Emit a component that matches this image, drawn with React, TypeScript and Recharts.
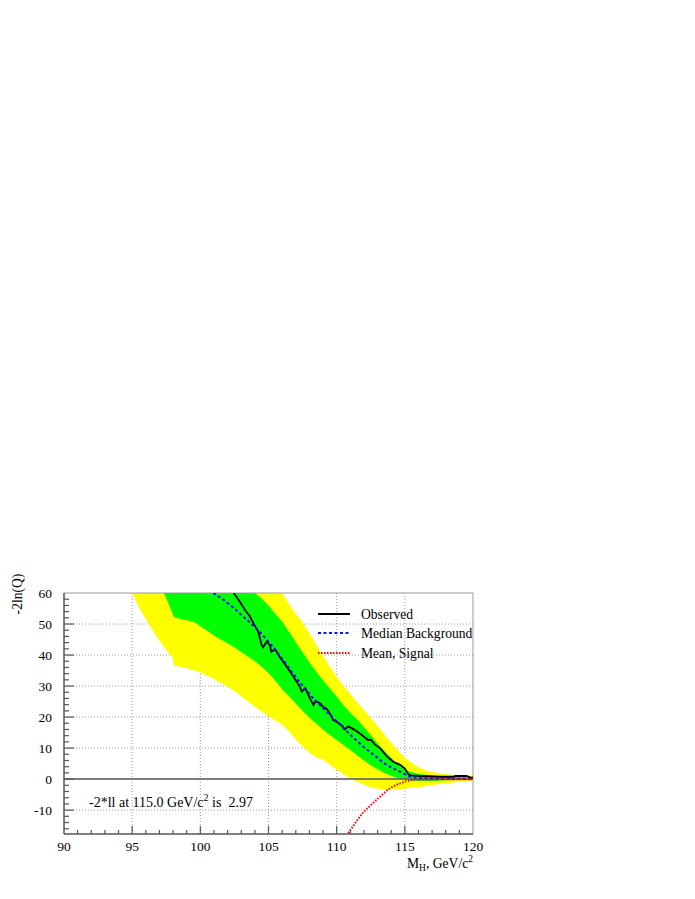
import React from 'react'
import {
  ComposedChart,
  Area,
  Line,
  XAxis,
  YAxis,
  CartesianGrid,
  ReferenceLine,
} from 'recharts'

// band grid (GeV/c^2) with 1 and 2 sigma edges of the background expectation
const bandX = [
  95, 95.5, 96, 96.5, 97, 97.5, 97.95, 98.05, 98.5, 99, 99.5, 100, 100.5, 101, 101.5, 102, 102.5, 103,
  103.5, 104, 104.5, 105, 105.5, 106, 106.5, 107, 107.5, 108, 108.5, 109, 109.5, 110, 110.5, 111, 111.5,
  112, 112.5, 113, 113.5, 114, 114.5, 115, 115.5, 116, 116.5, 117, 117.5, 118, 118.5, 119, 119.5, 120,
]
const yellowLo = [
  60, 55.3, 51.5, 48, 44.6, 41.6, 39.3, 36.7, 36.2, 35.7, 35.1, 34.4, 33.3, 32.3, 31, 29.8, 28.3, 26.7,
  25, 23.3, 21.8, 20.3, 18.9, 17.6, 15.4, 12.8, 10.5, 8.6, 7.0, 6.3, 4.6, 3.0, 1.6, 0.3, -0.8,
  -1.8, -2.6, -3.1, -3.4, -3.5, -3.3, -3.0, -2.8, -2.6, -2.3, -2.0, -1.6, -1.3, -1.1, -0.9, -0.7, -0.5,
]
const yellowHi = [
  60, 60, 60, 60, 60, 60, 60, 60, 60, 60, 60, 60, 60, 60, 60, 60, 60, 60,
  60, 60, 60, 60, 60, 60, 56.5, 53.3, 50.5, 47, 43.3, 39.8, 36.2, 33, 30.1, 27.4, 24.8,
  22.3, 19.8, 17.1, 14.3, 11.7, 9.2, 6.9, 5.2, 3.8, 2.9, 2.3, 1.9, 1.6, 1.4, 1.3, 1.2, 1.1,
]
const greenLo = [
  60, 60, 60, 60, 63, 58.3, 53.5, 52.3, 51.7, 51.2, 50.7, 49.3, 47.8, 46.3, 45, 43.8, 42.4, 41,
  39.5, 38, 36.2, 34.2, 31.7, 29, 26.8, 24.3, 22, 19.8, 17.9, 15.9, 14.2, 12.6, 11, 9.4, 7.7,
  6, 4.5, 3.2, 2, 1.1, 0.3, -0.3, -0.5, -0.6, -0.6, -0.6, -0.5, -0.4, -0.35, -0.3, -0.25, -0.2,
]
const greenHi = [
  60, 60, 60, 60, 60, 60, 60, 60, 60, 60, 60, 60, 60, 60, 60, 60, 60, 60,
  60, 60, 58.2, 56, 53.3, 50.8, 47.5, 44.2, 40.9, 37.6, 34.7, 31.9, 29.2, 26.6, 23.8, 21.4, 19.3,
  16.8, 14.2, 11.5, 9.1, 6.8, 4.6, 3.0, 2.2, 1.7, 1.4, 1.2, 1.0, 0.9, 0.8, 0.7, 0.6, 0.5,
]

// observed -2ln(Q)
const obsX = [
  102.45, 102.9, 103.28, 103.64, 103.9, 104.25, 104.5, 104.6, 104.87, 105.1, 105.2, 105.5, 105.8, 106.3,
  106.8, 107.3, 107.43, 107.7, 108.04, 108.3, 108.45, 108.8, 109.0, 109.27, 109.5, 109.75, 110.1, 110.4,
  110.6, 110.85, 111.35, 111.85, 112.3, 112.5, 112.8, 113.2, 113.67, 114.15, 114.65, 115.0, 115.26, 115.4,
  116.1, 117.6, 118.56, 118.7, 119.5, 119.8, 120,
]
const obsY = [
  60, 57.2, 54.5, 52.4, 50.2, 47.5, 43.2, 42.5, 44.3, 43.2, 41.1, 41.8, 39.5, 36.5,
  33.2, 29.8, 28.2, 29.3, 26, 23.9, 25.2, 24.4, 23.3, 22.6, 21.2, 19, 18.2, 17.2,
  16.0, 17.0, 15.8, 14.2, 12.6, 12.7, 11.2, 9.9, 7.4, 5.6, 4.6, 3.4, 1.6, 1.2,
  1.0, 0.75, 0.75, 1.0, 1.0, 0.55, 0.5,
]

// median background expectation
const bkgX = [100.95, 102.2, 103.15, 104.1, 105.1, 106.1, 107.07, 108.3, 109.5, 110.7, 112, 112.9, 113.4, 113.9, 114.65, 115.4, 116.3, 117, 118, 120]
const bkgY = [60, 56.1, 52.4, 48.6, 43.8, 38.2, 32.5, 26, 20.8, 15.6, 10.3, 7.2, 5.4, 4, 2.4, 0.8, 0.3, 0.2, 0.15, 0.1]

// mean signal+background expectation
const sigX = [110.6, 110.8, 111.2, 111.6, 112, 112.45, 112.9, 113.4, 113.9, 114.65, 115.4, 116.3, 117.5, 120]
const sigY = [-19, -17.7, -15.2, -12.7, -10.5, -8.6, -6.8, -4.8, -3.0, -1.4, -0.4, -0.15, -0.08, -0.03]

const xTicks = Array.from({ length: 31 }, (_, i) => 90 + i)
const yTicks = [-16, -14, -12, -10, -8, -6, -4, -2, 0, 2, 4, 6, 8, 10, 12, 14, 16, 18, 20, 22, 24, 26, 28, 30, 32, 34, 36, 38, 40, 42, 44, 46, 48, 50, 52, 54, 56, 58, 60]
const gridX = [95, 100, 105, 110, 115]
const gridY = [-10, 10, 20, 30, 40, 50]

const yellowData = bandX.map((x, i) => ({ x, band: [yellowLo[i], yellowHi[i]] }))
const greenData = bandX.map((x, i) => ({ x, band: [greenLo[i], greenHi[i]] }))
const obsData = obsX.map((x, i) => ({ x, y: obsY[i] }))
const bkgData = bkgX.map((x, i) => ({ x, y: bkgY[i] }))
const sigData = sigX.map((x, i) => ({ x, y: sigY[i] }))

const FONT = "'Liberation Serif', 'DejaVu Serif', serif"
const AXIS = '#555'

const XTick = (props: any) => {
  const { x, y, payload } = props
  const v = payload.value
  const major = v % 5 === 0
  return (
    <g>
      {v > 90 && v < 120 && <line x1={x} x2={x} y1={y} y2={y - (major ? 8 : 4)} stroke={AXIS} strokeWidth={1.2} />}
      {major && (
        <text x={x} y={y + 17} textAnchor="middle" fontFamily={FONT} fontSize={13.5} fill="#000">
          {v}
        </text>
      )}
    </g>
  )
}

const YTick = (props: any) => {
  const { x, y, payload } = props
  const v = payload.value
  const major = v % 10 === 0
  return (
    <g>
      {v < 60 && <line x1={x} x2={x + (major ? 10 : 5)} y1={y} y2={y} stroke={AXIS} strokeWidth={1.2} />}
      {major && (
        <text x={x - 12} y={y + 4.5} textAnchor="end" fontFamily={FONT} fontSize={13.5} fill="#000">
          {v}
        </text>
      )}
    </g>
  )
}

const W = 687
const H = 883

const App = () => {
  return (
    <div style={{ position: 'relative', width: W, height: H }}>
      <ComposedChart width={W} height={H} margin={{ top: 585, right: 222, bottom: 27, left: 0 }}>
        <CartesianGrid
          stroke="#999"
          strokeDasharray="1 2"
          horizontalValues={gridY}
          verticalValues={gridX}
        />
        <XAxis
          type="number"
          dataKey="x"
          domain={[90, 120]}
          ticks={xTicks}
          interval={0}
          allowDataOverflow
          tickSize={0}
          tickMargin={0}
          tick={<XTick />}
          axisLine={{ stroke: AXIS, strokeWidth: 1.5 }}
          height={30}
        />
        <YAxis
          type="number"
          domain={[-17.7, 60]}
          ticks={yTicks}
          interval={0}
          allowDataOverflow
          tickSize={0}
          tickMargin={0}
          tick={<YTick />}
          axisLine={{ stroke: AXIS, strokeWidth: 1.5 }}
          width={56}
        />
        <Area data={yellowData} dataKey="band" type="linear" stroke="none" fill="#ffff00" fillOpacity={1} isAnimationActive={false} />
        <Area data={greenData} dataKey="band" type="linear" stroke="none" fill="#00ff00" fillOpacity={1} isAnimationActive={false} />
        <ReferenceLine y={0} stroke="#666" strokeWidth={2} strokeOpacity={0.85} />
        <ReferenceLine y={60} stroke="#999" strokeWidth={1} />
        <ReferenceLine x={120} stroke="#999" strokeWidth={1} />
        <Line data={obsData} dataKey="y" type="linear" stroke="#000" strokeWidth={1.8} dot={false} activeDot={false} isAnimationActive={false} />
        <Line data={bkgData} dataKey="y" type="monotone" stroke="#1010ff" strokeWidth={2} strokeDasharray="3 2.5" dot={false} activeDot={false} isAnimationActive={false} />
        <Line data={sigData} dataKey="y" type="monotone" stroke="#ff0000" strokeWidth={2} strokeDasharray="1.5 1.5" dot={false} activeDot={false} isAnimationActive={false} />
      </ComposedChart>
      <svg
        width={W}
        height={H}
        style={{ position: 'absolute', left: 0, top: 0, pointerEvents: 'none' }}
        fontFamily={FONT}
        fontSize={13.6}
      >
        <text x={9} y={586} transform="rotate(-90 9 586)" textAnchor="middle" dominantBaseline="central">
          -2ln(Q)
        </text>
        <text x={465} y={860} textAnchor="end">
          M<tspan fontSize={9.5} dy={3}>H</tspan>
          <tspan dy={-3}>, GeV/c</tspan>
          <tspan fontSize={9.5} dy={-6}>2</tspan>
        </text>
        <text x={81} y={799} fontSize={14} style={{ whiteSpace: 'pre' }}>
          -2*ll at 115.0 GeV/c<tspan fontSize={10} dy={-6}>2</tspan>
          <tspan dy={6}> is  2.97</tspan>
        </text>
        <g>
          <line x1={310} x2={342} y1={606} y2={606} stroke="#000" strokeWidth={2} />
          <text x={353} y={610.5}>Observed</text>
          <line x1={310} x2={342} y1={625} y2={625} stroke="#1010ff" strokeWidth={2} strokeDasharray="3 2.5" />
          <text x={353} y={629.5}>Median Background</text>
          <line x1={310} x2={342} y1={645} y2={645} stroke="#ff0000" strokeWidth={2} strokeDasharray="1.5 1.5" />
          <text x={353} y={649.5}>Mean, Signal</text>
        </g>
      </svg>
    </div>
  )
}

export default App
